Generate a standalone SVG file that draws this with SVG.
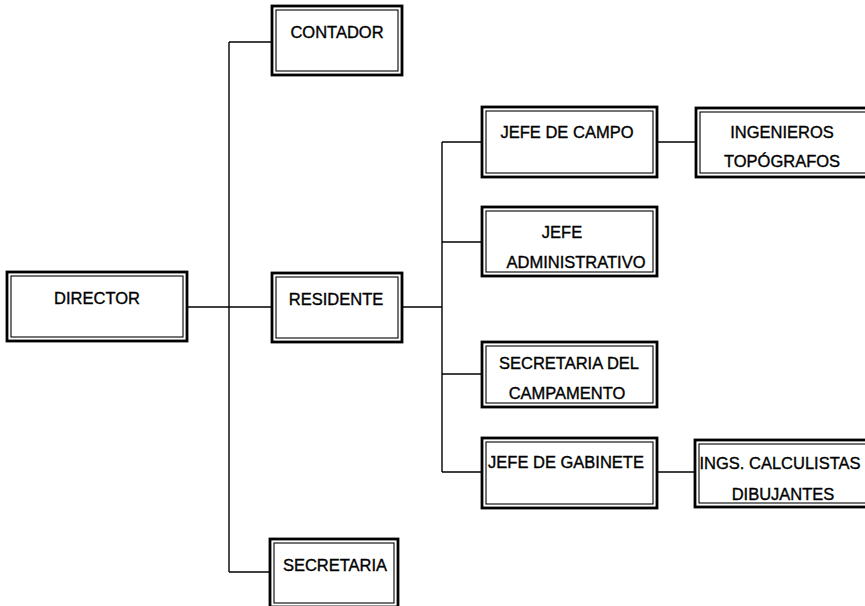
<svg xmlns="http://www.w3.org/2000/svg" width="865" height="606" viewBox="0 0 865 606">
<style>
.outer{fill:#fff;stroke:#000;stroke-width:2.8}
.inner{fill:none;stroke:#000;stroke-width:1.1}
.t{font-family:"Liberation Sans",Arial,sans-serif;font-size:16.5px;fill:#000;stroke:#000;stroke-width:0.35;text-anchor:middle}
.c{fill:none;stroke:#000;stroke-width:1.4}
</style>
<rect width="865" height="606" fill="#fff"/>
<g id="connectors">
<path class="c" d="M187 307H272"/>
<path class="c" d="M229 42V572"/>
<path class="c" d="M229 42H272"/>
<path class="c" d="M229 572H270"/>
<path class="c" d="M402 307H442"/>
<path class="c" d="M442 142V472"/>
<path class="c" d="M442 142H482"/>
<path class="c" d="M442 242H482"/>
<path class="c" d="M442 374H482"/>
<path class="c" d="M442 472H482"/>
<path class="c" d="M657 142H696"/>
<path class="c" d="M657 472H695"/>
</g>
<g id="director">
<rect class="outer" x="7" y="272" width="180" height="69"/>
<rect class="inner" x="11" y="276" width="172" height="61"/>
<text class="t" x="97" y="304">DIRECTOR</text>
</g>
<g id="contador">
<rect class="outer" x="272" y="6" width="130" height="69"/>
<rect class="inner" x="276" y="10" width="122" height="61"/>
<text class="t" x="337" y="38">CONTADOR</text>
</g>
<g id="residente">
<rect class="outer" x="272" y="273" width="130" height="69"/>
<rect class="inner" x="276" y="277" width="122" height="61"/>
<text class="t" x="336" y="305">RESIDENTE</text>
</g>
<g id="secretaria">
<rect class="outer" x="270" y="539" width="128" height="68"/>
<rect class="inner" x="274" y="543" width="120" height="60"/>
<text class="t" x="335" y="571">SECRETARIA</text>
</g>
<g id="jefe-campo">
<rect class="outer" x="482" y="107" width="175" height="70"/>
<rect class="inner" x="486" y="111" width="167" height="62"/>
<text class="t" x="567" y="138">JEFE DE CAMPO</text>
</g>
<g id="ingenieros">
<rect class="outer" x="696" y="108" width="172" height="69"/>
<rect class="inner" x="700" y="112" width="172" height="61"/>
<text class="t" x="782" y="138">INGENIEROS</text>
<text class="t" x="782" y="167">TOPÓGRAFOS</text>
</g>
<g id="jefe-administrativo">
<rect class="outer" x="482" y="207" width="175" height="69"/>
<rect class="inner" x="486" y="211" width="167" height="61"/>
<text class="t" x="562" y="238">JEFE</text>
<text class="t" x="576" y="268">ADMINISTRATIVO</text>
</g>
<g id="secretaria-campamento">
<rect class="outer" x="482" y="342" width="175" height="65"/>
<rect class="inner" x="486" y="346" width="167" height="57"/>
<text class="t" x="569" y="369">SECRETARIA DEL</text>
<text class="t" x="567" y="399">CAMPAMENTO</text>
</g>
<g id="jefe-gabinete">
<rect class="outer" x="482" y="438" width="175" height="70"/>
<rect class="inner" x="486" y="442" width="167" height="62"/>
<text class="t" x="566" y="468">JEFE DE GABINETE</text>
</g>
<g id="ings-calculistas">
<rect class="outer" x="695" y="440" width="173" height="67"/>
<rect class="inner" x="699" y="444" width="173" height="59"/>
<text class="t" x="780" y="469">INGS. CALCULISTAS</text>
<text class="t" x="783" y="500">DIBUJANTES</text>
</g>
</svg>
